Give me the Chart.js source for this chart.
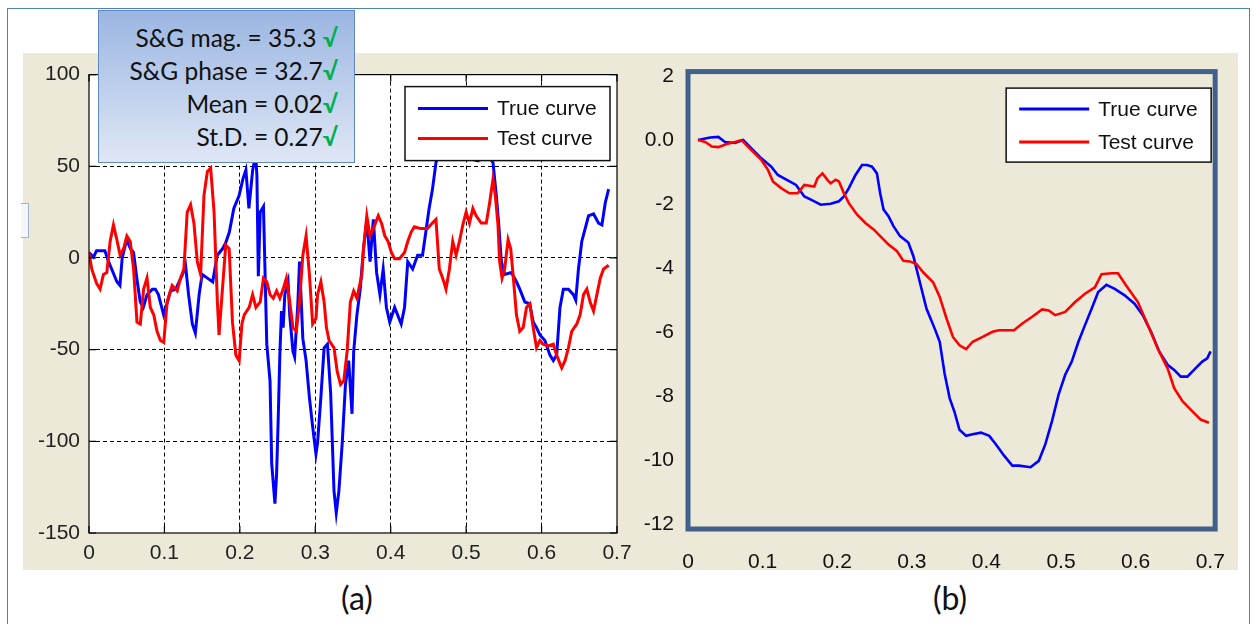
<!DOCTYPE html>
<html>
<head>
<meta charset="utf-8">
<script src="https://cdn.jsdelivr.net/npm/chart.js@4.4.0/dist/chart.umd.min.js"></script>
<style>
body { margin:0; width:1254px; height:624px; background:#fff; position:relative; overflow:hidden; }
#frame { position:absolute; left:7px; top:8px; width:1243px; height:700px; border:1.5px solid #4f81bd; box-sizing:border-box; }
#panel { position:absolute; left:23px; top:53px; width:1215px; height:517px; background:#ece9d8; }
#nub { position:absolute; left:21px; top:203px; width:7px; height:33px; border:1px solid #9fb3d6; border-left:none; background:#f4f6fa; }
canvas { position:absolute; }
#chartA { left:23px; top:53px; }
#chartB { left:640px; top:53px; }
#stats { position:absolute; left:98px; top:10px; width:257px; height:153px; box-sizing:border-box;
  border:1px solid #5f87c2; background:linear-gradient(#9bb6e2, #dfe7f5);
  font-family:"Lato", "Open Sans", sans-serif; font-size:24.5px; color:#111; text-align:right;
  padding:10px 16px 0 0; line-height:33px; }
#stats .ok { color:#00b050; font-weight:bold; }
.cap { position:absolute; top:578px; font-family:"Lato", "Open Sans", sans-serif; font-size:32px; color:#111; width:80px; text-align:center; }
</style>
</head>
<body>
<div id="frame"></div>
<div id="panel"></div>
<div id="nub"></div>
<canvas id="chartA" width="620" height="517"></canvas>
<canvas id="chartB" width="598" height="517"></canvas>
<div id="stats">
  <div>S&amp;G mag. = 35.3 <span class="ok">√</span></div>
  <div>S&amp;G phase = 32.7<span class="ok">√</span></div>
  <div>Mean = 0.02<span class="ok">√</span></div>
  <div>St.D. = 0.27<span class="ok">√</span></div>
</div>
<div class="cap" style="left:317px">(a)</div>
<div class="cap" style="left:910px">(b)</div>

<script>
// ---- panel (a) : residual curves ----
var trueXA = [0, 0.006, 0.010, 0.021, 0.026, 0.030, 0.037, 0.041, 0.044, 0.050, 0.055, 0.059, 0.064, 0.068,
  0.072, 0.077, 0.084, 0.088, 0.092, 0.099, 0.104, 0.108, 0.115, 0.124, 0.128, 0.132, 0.137, 0.141, 0.146,
  0.150, 0.157, 0.164, 0.170, 0.177, 0.181, 0.186, 0.192, 0.199, 0.204, 0.208, 0.212, 0.217, 0.221,
  0.2226, 0.2245, 0.227, 0.2313, 0.2357, 0.240, 0.2422, 0.2465, 0.2487, 0.2509, 0.253, 0.2552, 0.2574,
  0.2596, 0.2639, 0.2661, 0.2704, 0.2726, 0.277, 0.2791, 0.2835, 0.2878, 0.2922, 0.2965, 0.3009, 0.303,
  0.3074, 0.3117, 0.3161, 0.3204, 0.3248, 0.3278, 0.3313, 0.3357, 0.340, 0.3443, 0.3487, 0.3509, 0.3552,
  0.3596, 0.3639, 0.3683, 0.3726, 0.377, 0.3813, 0.3857, 0.390, 0.3943, 0.3987, 0.4052, 0.4139, 0.4183,
  0.4226, 0.4291, 0.4357, 0.4422, 0.4465, 0.4509, 0.4552, 0.460, 0.4644, 0.4711, 0.4844, 0.4978, 0.5156,
  0.5289, 0.5356, 0.540, 0.5431, 0.5467, 0.5511, 0.560, 0.5667, 0.5711, 0.5778, 0.5844, 0.5889, 0.5933,
  0.5978, 0.6044, 0.6111, 0.6156, 0.620, 0.6244, 0.6289, 0.6356, 0.6422, 0.6453, 0.6489, 0.6533, 0.6578,
  0.6622, 0.6689, 0.6756, 0.680, 0.6844, 0.6889];
var trueYA = [3, 0.5, 4, 4, -2, -6, -13, -15, 0, 10, 5, 3, -13, -24,
  -27, -20, -17, -17, -20, -31, -24, -18, -17, -9, -4, -20, -36, -41, -20,
  -9, -11, -13, 1.5, 5, 8, 14, 27, 34, 43, 48, 27, 48, 56,
  45, -10, 25, 28, -47, -67, -112, -134, -118, -87, -53, -29, -38,
  -20, -13, -31, -51, -54, -24, -2, -44, -56, -76, -92, -107, -101,
  -76, -49, -47, -74, -127, -139, -127, -101, -69, -56, -85, -51, -31,
  -17, 5, 21, -2, 21, -8, -20, -6, -27, -35, -27, -36, -27,
  -2, -6, 1.5, 1.5, 14, 27, 37, 52, 58, 62, 58, 55, 53,
  56, 52, 34, 19, -2, -9, -8, -13, -17, -24, -25, -35, -38,
  -42, -45, -53, -56, -53, -27, -17, -17, -20, -23, -6, 9, 16,
  23, 24, 19, 18, 30, 37.5];

var testXA = [0, 0.0036, 0.0102, 0.0147, 0.0191, 0.0236, 0.028, 0.0324, 0.0369, 0.0413, 0.0458, 0.0502,
  0.0547, 0.0591, 0.0636, 0.068, 0.0724, 0.0769, 0.0813, 0.0858, 0.0902, 0.0947, 0.0991, 0.1036, 0.1102,
  0.1169, 0.1213, 0.1258, 0.1302, 0.1347, 0.1391, 0.1436, 0.148, 0.1524, 0.1569, 0.1613, 0.1658, 0.1702,
  0.1724, 0.1769, 0.1813, 0.1858, 0.1902, 0.1947, 0.1991, 0.2027, 0.2058, 0.2124, 0.2169, 0.2213,
  0.227, 0.2313, 0.2357, 0.240, 0.2443, 0.2487, 0.253, 0.2574, 0.2617, 0.2661, 0.2704, 0.2748, 0.2791,
  0.2835, 0.2878, 0.2922, 0.2965, 0.3009, 0.303, 0.3074, 0.3117, 0.3148, 0.3183, 0.3248, 0.3291, 0.3335,
  0.3378, 0.3422, 0.3465, 0.3509, 0.3552, 0.3617, 0.3639, 0.3683, 0.3726, 0.377, 0.3835, 0.3878, 0.3922,
  0.3965, 0.4009, 0.4052, 0.4117, 0.4183, 0.4226, 0.427, 0.4313, 0.440, 0.4487, 0.4552,
  0.460, 0.4644, 0.4689, 0.4733, 0.4778, 0.4822, 0.4867, 0.4911, 0.4956, 0.500, 0.5044, 0.5089, 0.5133,
  0.520, 0.5267, 0.5311, 0.5356, 0.5387, 0.5422, 0.5444, 0.5476, 0.5511, 0.5556, 0.5591, 0.5622, 0.5667,
  0.5711, 0.5756, 0.580, 0.5844, 0.5889, 0.5933, 0.5978, 0.6022, 0.6089, 0.6156, 0.620, 0.6267, 0.6311,
  0.6356, 0.640, 0.6467, 0.6511, 0.6556, 0.660, 0.6644, 0.6689, 0.6733, 0.6778, 0.6822, 0.6889];
var testYA = [3, -6, -14, -17, -9, -8, 9, 18, 10, 1.5, 5, 12,
  9, -6, -35, -36, -17, -11, -27, -31, -40, -45, -46, -24, -15,
  -18, -11, -6, 25, 29, 19, -2, -9, 34, 47, 49, 25, -24,
  -42, -17, 7, 5, -35, -53, -56, -36, -31, -27, -20, -27,
  -24, -11, -13, -20, -22, -18, -22, -17, -11, -24, -38, -40, -24,
  1.5, 12, -9, -36, -33, -20, -13, -24, -38, -45, -49, -62, -69,
  -67, -51, -24, -18, -22, -9, 5, 23, 12, 16, 23, 19, 12,
  9, 3, -0.4, -0.4, 3, 9, 14, 17, 16, 16, 19,
  21, -6, -11, -17, -6, 9, 1.5, 9, 18, 25, 19, 27, 23,
  19, 19, 30, 43, 34, 18, -2, -11, -6, 10, 5, -9, -31,
  -40, -38, -27, -25, -38, -49, -45, -47, -48, -47, -53, -60, -56,
  -49, -40, -36, -31, -20, -17, -24, -29, -20, -11, -6, -4];

var xTicksA = [0, 0.1, 0.2, 0.3, 0.4, 0.5, 0.6, 0.7];
var xLabelsA = ['0', '0.1', '0.2', '0.3', '0.4', '0.5', '0.6', '0.7'];
var yTicksA = [-150, -100, -50, 0, 50, 100];

// ---- panel (b) : integrated curves ----
var trueXB = [0.0133, 0.0297, 0.0407, 0.0496, 0.0629, 0.074, 0.085, 0.0983, 0.1116, 0.1204, 0.1337, 0.1448,
  0.1559, 0.1647, 0.178, 0.1913, 0.2023, 0.209, 0.2156, 0.2245, 0.2333, 0.240, 0.2466, 0.2532, 0.2576,
  0.2621, 0.2687, 0.2754, 0.2842, 0.2953, 0.302, 0.3108, 0.3197, 0.3307, 0.3374, 0.344, 0.3507, 0.3573,
  0.3639, 0.3728, 0.3816, 0.3927, 0.4038, 0.4126, 0.4237, 0.4347, 0.4436, 0.4591, 0.4702, 0.479, 0.4879,
  0.4967, 0.5056, 0.5144, 0.5233, 0.5321, 0.541, 0.5498, 0.5609, 0.572, 0.5853, 0.5985, 0.6096, 0.6207,
  0.6317, 0.6428, 0.6517, 0.6605, 0.6694, 0.6782, 0.6893, 0.696, 0.7004];
var trueYB = [0, 0.08, 0.1, -0.06, -0.09, 0, -0.26, -0.57, -0.83, -1.09, -1.26, -1.4,
  -1.76, -1.86, -2.02, -1.99, -1.91, -1.76, -1.5, -1.09, -0.78, -0.78, -0.83, -1.04, -1.66,
  -2.17, -2.38, -2.69, -3.0, -3.2, -3.62, -4.44, -5.27, -5.89, -6.3, -7.3, -8.06, -8.5,
  -9.05, -9.24, -9.19, -9.14, -9.24, -9.5, -9.86, -10.17, -10.17, -10.22, -10.02, -9.5, -8.78,
  -7.95, -7.33, -6.92, -6.3, -5.78, -5.27, -4.75, -4.52, -4.65, -4.85, -5.11, -5.47, -5.99,
  -6.61, -7.02, -7.18, -7.39, -7.39, -7.18, -6.92, -6.82, -6.6];

var testXB = [0.0133, 0.0231, 0.032, 0.0407, 0.0518, 0.0629, 0.0717, 0.085, 0.0983, 0.1072, 0.1138, 0.1248,
  0.1359, 0.147, 0.1559, 0.1692, 0.1736, 0.1802, 0.1869, 0.1913, 0.1979, 0.2023, 0.209, 0.2156, 0.2267,
  0.2377, 0.2488, 0.2576, 0.2687, 0.2798, 0.2886, 0.2975, 0.3063, 0.3152, 0.3285, 0.3374, 0.3462, 0.3551,
  0.3639, 0.3728, 0.3816, 0.3949, 0.4082, 0.417, 0.437, 0.4481, 0.4613, 0.4746, 0.4835, 0.4923, 0.5056,
  0.5189, 0.5321, 0.5454, 0.5543, 0.5676, 0.5764, 0.5875, 0.603, 0.6163, 0.6296, 0.6428, 0.6517, 0.6628,
  0.6738, 0.6871, 0.6982];
var testYB = [0, -0.06, -0.2, -0.22, -0.12, -0.06, 0, -0.31, -0.62, -0.93, -1.29, -1.5,
  -1.66, -1.66, -1.4, -1.45, -1.19, -1.04, -1.24, -1.35, -1.24, -1.29, -1.66, -1.97, -2.33,
  -2.59, -2.79, -3.0, -3.26, -3.46, -3.77, -3.79, -3.87, -4.13, -4.44, -4.9, -5.55, -6.15,
  -6.41, -6.53, -6.3, -6.15, -5.99, -5.94, -5.94, -5.73, -5.52, -5.29, -5.32, -5.47, -5.37,
  -5.06, -4.8, -4.6, -4.19, -4.16, -4.16, -4.55, -5.06, -5.78, -6.51, -7.13, -7.75, -8.16,
  -8.42, -8.73, -8.83];

var xTicksB = [0, 0.1, 0.2, 0.3, 0.4, 0.5, 0.6, 0.7];
var xLabelsB = ['0', '0.1', '0.2', '0.3', '0.4', '0.5', '0.6', '0.7'];
var yTicksB = [-12, -10, -8, -6, -4, -2, 0, 2];

var seriesNames = ['True curve', 'Test curve'];

function toPoints(xs, ys) {
  var pts = [];
  for (var i = 0; i < xs.length; i++) {
    pts.push({x: xs[i], y: ys[i]});
  }
  return pts;
}

function setTicks(list) {
  return function(scale) {
    scale.ticks = list.map(function(v) { return {value: v}; });
  };
}

// white plot area + matlab box with inward tick marks
var matlabBox = {
  id: 'matlabBox',
  beforeDraw: function(chart) {
    var a = chart.chartArea, c = chart.ctx;
    c.save();
    c.fillStyle = '#fff';
    c.fillRect(a.left, a.top, a.right - a.left, a.bottom - a.top);
    c.restore();
  },
  afterDatasetsDraw: function(chart) {
    var a = chart.chartArea, c = chart.ctx;
    var sx = chart.scales.x, sy = chart.scales.y;
    c.save();
    c.strokeStyle = '#000';
    c.lineWidth = 1.2;
    c.strokeRect(a.left, a.top, a.right - a.left, a.bottom - a.top);
    c.beginPath();
    sx.ticks.forEach(function(t) {
      var px = sx.getPixelForValue(t.value);
      c.moveTo(px, a.top); c.lineTo(px, a.top + 7);
      c.moveTo(px, a.bottom); c.lineTo(px, a.bottom - 7);
    });
    sy.ticks.forEach(function(t) {
      var py = sy.getPixelForValue(t.value);
      c.moveTo(a.left, py); c.lineTo(a.left + 7, py);
      c.moveTo(a.right, py); c.lineTo(a.right - 7, py);
    });
    c.stroke();
    c.restore();
  }
};

// thick frame round panel (b)
var heavyFrame = {
  id: 'heavyFrame',
  afterDatasetsDraw: function(chart) {
    var a = chart.chartArea, c = chart.ctx;
    c.save();
    c.strokeStyle = '#41608b';
    c.lineWidth = 5;
    c.strokeRect(a.left, a.top, a.right - a.left, a.bottom - a.top);
    c.restore();
  }
};

// legend box drawn inside the plot, top right
var boxLegend = {
  id: 'boxLegend',
  afterDraw: function(chart, args, opts) {
    var a = chart.chartArea, c = chart.ctx;
    var x = a.right - opts.right - opts.width, y = a.top + opts.top;
    c.save();
    c.fillStyle = '#fff';
    c.fillRect(x, y, opts.width, opts.height);
    c.strokeStyle = '#111';
    c.lineWidth = 1.5;
    c.strokeRect(x, y, opts.width, opts.height);
    c.font = '21px "Liberation Sans", Arial, sans-serif';
    c.textBaseline = 'middle';
    chart.data.datasets.forEach(function(ds, i) {
      var ry = y + opts.rowTop + i * opts.rowGap;
      c.strokeStyle = ds.borderColor;
      c.lineWidth = 3;
      c.beginPath();
      c.moveTo(x + 13, ry);
      c.lineTo(x + 83, ry);
      c.stroke();
      c.fillStyle = '#111';
      c.fillText(ds.label, x + 92, ry + 1);
    });
    c.restore();
  }
};

var tickFont = {family: '"Liberation Sans", Arial, sans-serif', size: 21};

function lastOrFirst(n) {
  return function(ctx) {
    return (ctx.index === 0 || ctx.index === n - 1) ? 'rgba(0,0,0,0)' : '#000';
  };
}

var chartA = new Chart(document.getElementById('chartA').getContext('2d'), {
  type: 'line',
  data: {
    datasets: [
      {label: seriesNames[0], data: toPoints(trueXA, trueYA), borderColor: '#0000ff', borderWidth: 3, order: 2},
      {label: seriesNames[1], data: toPoints(testXA, testYA), borderColor: '#ff0000', borderWidth: 3, order: 1}
    ]
  },
  options: {
    responsive: false,
    animation: false,
    elements: {point: {radius: 0}, line: {tension: 0}},
    layout: {padding: {left: 0, right: 26, top: 19, bottom: 0}},
    scales: {
      x: {
        type: 'linear', min: 0, max: 0.7,
        afterBuildTicks: setTicks(xTicksA),
        afterFit: function(s) { s.height = 37; },
        grid: {color: lastOrFirst(xTicksA.length), lineWidth: 1, drawTicks: false},
        border: {display: false, dash: [4, 3]},
        ticks: {padding: 8, color: '#222', font: tickFont,
          callback: function(v, i) { return xLabelsA[i]; }}
      },
      y: {
        type: 'linear', min: -150, max: 100,
        afterBuildTicks: setTicks(yTicksA),
        afterFit: function(s) { s.width = 66; },
        grid: {color: lastOrFirst(yTicksA.length), lineWidth: 1, drawTicks: false},
        border: {display: false, dash: [4, 3]},
        ticks: {padding: 9, color: '#222', font: tickFont}
      }
    },
    plugins: {
      legend: {display: false},
      tooltip: {enabled: false},
      boxLegend: {right: 7, top: 12, width: 205, height: 74, rowTop: 22, rowGap: 30}
    }
  },
  plugins: [matlabBox, boxLegend]
});

var chartB = new Chart(document.getElementById('chartB').getContext('2d'), {
  type: 'line',
  data: {
    datasets: [
      {label: seriesNames[0], data: toPoints(trueXB, trueYB), borderColor: '#0000ff', borderWidth: 2.6, order: 2},
      {label: seriesNames[1], data: toPoints(testXB, testYB), borderColor: '#ff0000', borderWidth: 2.6, order: 1}
    ]
  },
  options: {
    responsive: false,
    animation: false,
    elements: {point: {radius: 0}, line: {tension: 0}},
    layout: {padding: {left: 0, right: 18, top: 14.5, bottom: 0}},
    scales: {
      x: {
        type: 'linear', min: 0, max: 0.7066,
        afterBuildTicks: setTicks(xTicksB),
        afterFit: function(s) { s.height = 41; },
        grid: {display: false},
        border: {display: false},
        ticks: {padding: 13, color: '#111', font: tickFont,
          callback: function(v, i) { return xLabelsB[i]; }}
      },
      y: {
        type: 'linear', min: -12.15, max: 2.14,
        afterBuildTicks: setTicks(yTicksB),
        afterFit: function(s) { s.width = 48; },
        grid: {display: false},
        border: {display: false},
        ticks: {padding: 6, color: '#111', font: tickFont,
          callback: function(v) { return v === 0 ? '0.0' : String(v); }}
      }
    },
    plugins: {
      legend: {display: false},
      tooltip: {enabled: false},
      boxLegend: {right: 4, top: 16.5, width: 205, height: 74, rowTop: 21, rowGap: 33}
    }
  },
  plugins: [heavyFrame, boxLegend]
});
</script>
</body>
</html>
